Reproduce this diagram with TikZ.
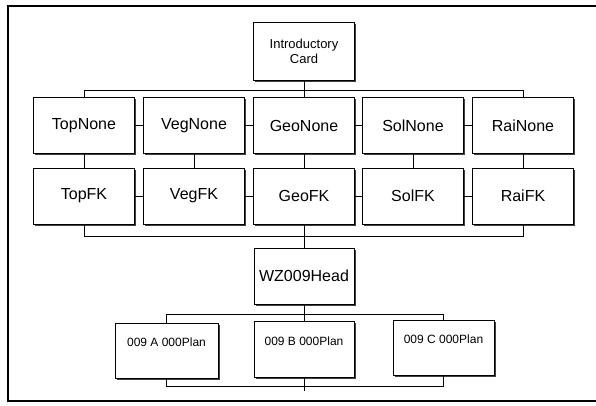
\documentclass[tikz,border=0pt]{standalone}
\usepackage{fontspec}
\setmainfont{Liberation Sans}
\usetikzlibrary{shadows}
\begin{document}
\begin{tikzpicture}[x=1pt,y=-1pt,
  card/.style={draw, line width=0.8pt, fill=white, rectangle, inner sep=0pt,
    minimum width=101pt, minimum height=56pt, font=\fontsize{16}{18}\selectfont,
    general shadow={fill=black!75, shadow xshift=1.6pt, shadow yshift=-1.6pt}},
  intro/.style={card, font=\fontsize{13}{15}\selectfont, align=center, minimum height=58pt},
  plan/.style={card, minimum width=101pt, minimum height=55pt},
  plantext/.style={font=\fontsize{12}{14}\selectfont, inner sep=0pt},
  link/.style={line width=0.7pt},
  frame/.style={line width=1.1pt}]
\useasboundingbox (0,0) rectangle (596,405);
\fill[white] (0,0) rectangle (596,405);
\draw[frame] (597,6) -- (8,6) -- (8,401) -- (597,401);

\node[intro] (intro) at (304,51) {Introductory\\Card};

\node[card] (topn) at (84,125.5) {TopNone};
\node[card] (vegn) at (194,125.5) {VegNone};
\node[card] (geon) at (304,125.5) {GeoNone};
\node[card] (soln) at (413,125.5) {SolNone};
\node[card] (rain) at (523,125.5) {RaiNone};

\node[card] (topf) at (84,196) {TopFK};
\node[card] (vegf) at (194,196) {VegFK};
\node[card] (geof) at (304,196) {GeoFK};
\node[card] (solf) at (413,196) {SolFK};
\node[card] (raif) at (523,196) {RaiFK};

\node[card, minimum width=100pt] (head) at (304,276) {WZ009Head};

\node[plan, minimum width=103pt] (pa) at (166.5,350.5) {};
\node[plan, minimum width=100pt, minimum height=56pt] (pb) at (304,349) {};
\node[plan] (pc) at (443.5,347.5) {};
\node[plantext] (ta) at ([yshift=-20pt]pa.north) {009 A 000Plan};
\node[plantext] (tb) at ([yshift=-21pt]pb.north) {009 B 000Plan};
\node[plantext] (tc) at ([yshift=-20pt]pc.north) {009 C 000Plan};

\coordinate (bstub) at ([yshift=-14pt]pb.south);

% top bus
\draw[link] (topn.north) -- ++(0,-7) -| (rain.north);
\draw[link] (intro.south) -- (geon.north);
% sibling stubs
\foreach \a/\b in {topn/vegn, vegn/geon, geon/soln, soln/rain, topf/vegf, vegf/geof, geof/solf, solf/raif}
  \draw[link] (\a.east) -- (\b.west);
% verticals
\foreach \a/\b in {topn/topf, vegn/vegf, geon/geof, soln/solf, rain/raif}
  \draw[link] (\a.south) -- (\b.north);
% bottom bus
\draw[link] (topf.south) -- ++(0,12) -| (raif.south);
\draw[link] (geof.south) -- (head.north);
% plan bus
\draw[link] (pa.north) -- ++(0,-8) -| (pc.north);
\draw[link] (head.south) -- (pb.north);
\draw[link] (pa.south) -- ++(0,8) -| (pc.south);
\draw[link] (pb.south) -- (bstub);
\end{tikzpicture}
\end{document}
